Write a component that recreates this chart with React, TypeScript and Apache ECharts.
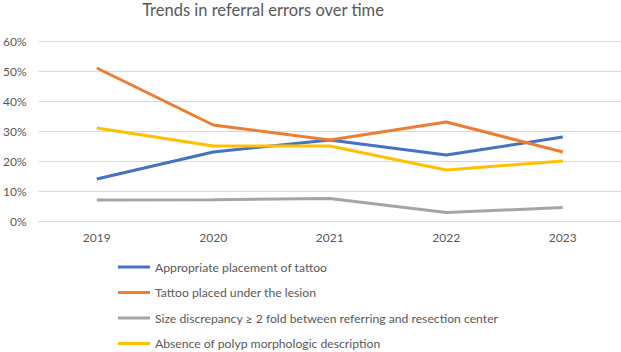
import React, { useEffect, useRef } from "react";
import * as echarts from "echarts";

const years = ["2019", "2020", "2021", "2022", "2023"];
const appropriatePlacement = [14, 23, 27, 22, 28];
const tattooUnderLesion = [51, 32, 27, 33, 23];
const sizeDiscrepancy = [7, 7.1, 7.5, 2.8, 4.5];
const absenceMorphology = [31, 25, 25, 17, 20];
const seriesNames = [
  "Appropriate placement of tattoo",
  "Tattoo placed under the lesion",
  "Size discrepancy ≥ 2 fold between referring and resection center",
  "Absence of polyp morphologic description",
];
const colors = ["#4472C4", "#ED7D31", "#A5A5A5", "#FFC000"];

export default function App() {
  const ref = useRef<HTMLDivElement>(null);
  useEffect(() => {
    if (!ref.current) return;
    const chart = echarts.init(ref.current, null, { renderer: "svg" });
    const data = [appropriatePlacement, tattooUnderLesion, sizeDiscrepancy, absenceMorphology];
    chart.setOption({
      animation: false,
      color: colors,
      textStyle: { fontFamily: "Lato" },
      title: {
        text: "Trends in referral errors over time",
        left: 263,
        textAlign: "center",
        top: 1,
        padding: 0,
        textStyle: { fontSize: 16.5, fontWeight: "normal", color: "#595959", fontFamily: "Lato" },
      },
      legend: {
        orient: "vertical",
        left: 118,
        top: 261,
        height: 100,
        padding: 0,
        icon: "rect",
        itemWidth: 32,
        itemHeight: 3,
        itemGap: 13.5,
        textStyle: { fontSize: 12.2, color: "#595959", fontFamily: "Lato" },
        data: seriesNames,
      },
      grid: { left: 35, top: 41, width: 587, height: 180, containLabel: false },
      xAxis: {
        type: "category",
        data: years,
        boundaryGap: true,
        axisLine: { show: true, lineStyle: { color: "#D9D9D9" } },
        axisTick: { show: false },
        axisLabel: { color: "#595959", fontSize: 12, margin: 10 },
      },
      yAxis: {
        type: "value",
        min: 0,
        max: 60,
        interval: 10,
        axisLine: { show: false },
        axisTick: { show: false },
        axisLabel: { color: "#595959", fontSize: 12, margin: 12, formatter: "{value}%" },
        splitLine: { lineStyle: { color: "#D9D9D9" } },
      },
      series: seriesNames.map((name, i) => ({
        name,
        type: "line",
        data: data[i],
        symbol: "none",
        lineStyle: { width: 3, color: colors[i] },
      })),
    });
    return () => chart.dispose();
  }, []);
  return <div ref={ref} style={{ width: 621, height: 352, position: "absolute", left: 0, top: 0 }} />;
}
